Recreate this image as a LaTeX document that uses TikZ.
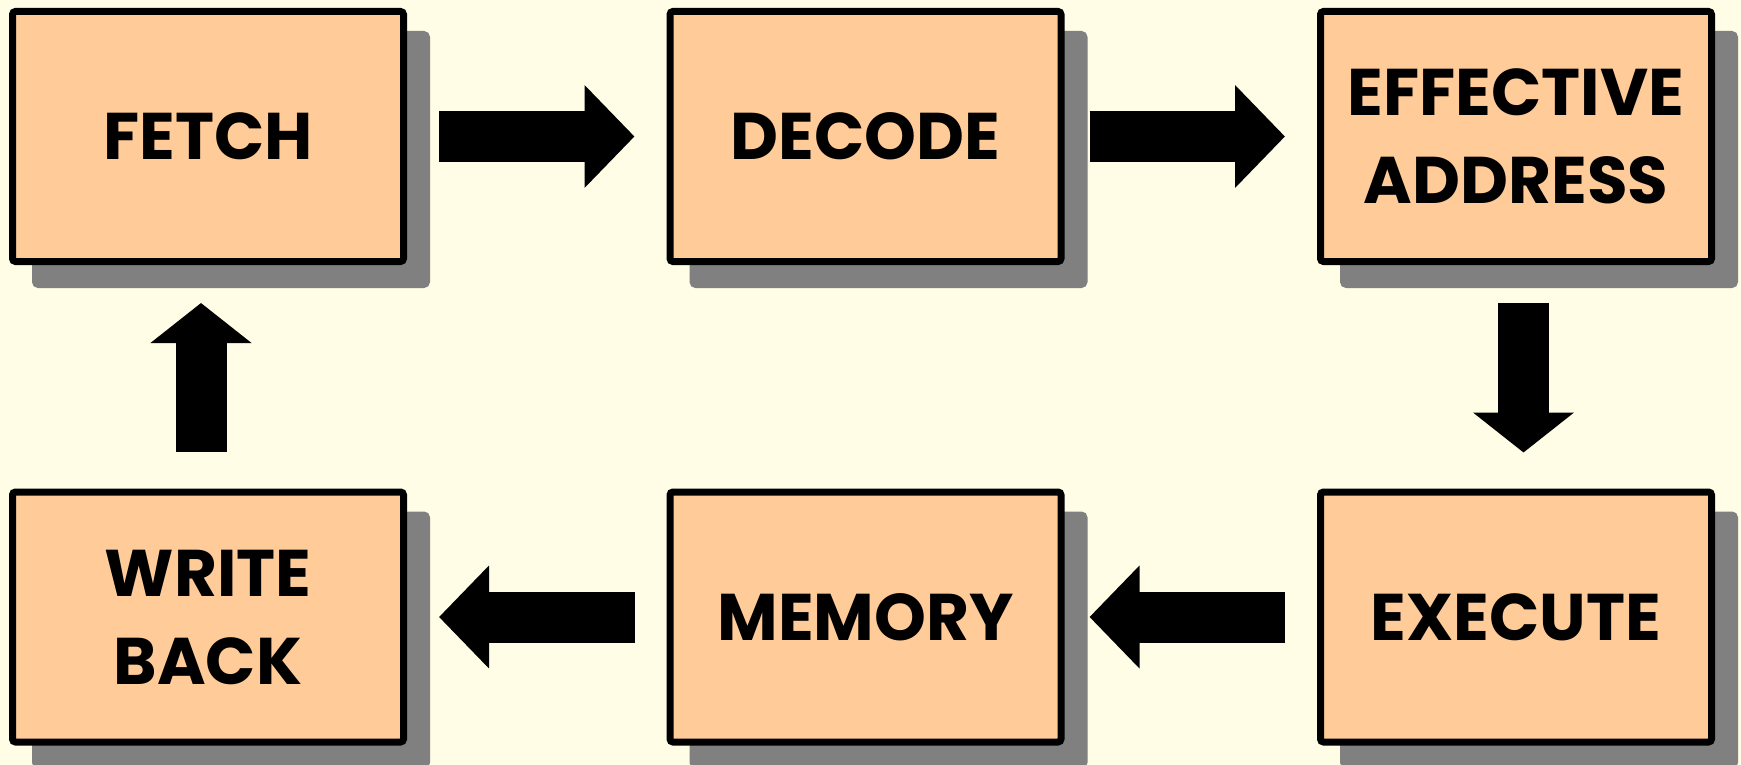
\documentclass[tikz,border=0pt]{standalone}
\usepackage{fontspec}
\setmainfont{Poppins}
\usetikzlibrary{arrows.meta,shadows}

\definecolor{bgyellow}{HTML}{FFFDE6}
\definecolor{stagefill}{HTML}{FFCC99}
\definecolor{shadowgray}{HTML}{808080}

\tikzset{
  stage/.style={draw=black, fill=stagefill, line width=3.5pt, rounded corners=1.5pt,
    minimum width=195.5pt, minimum height=125pt, align=center, inner sep=0pt,
    font=\fontsize{33}{44}\selectfont\bfseries,
    drop shadow={shadow xshift=11.5pt, shadow yshift=-11.5pt, fill=shadowgray,
      draw=shadowgray, opacity=1}},
  flowarrow/.style={line width=25.5pt, -{Triangle[width=50pt,length=25pt]}},
  flowarrowv/.style={line width=25.5pt, -{Triangle[width=49.5pt,length=20pt]}}
}

\begin{document}
\begin{tikzpicture}[x=0.5pt,y=-0.5pt]
  \fill[bgyellow] (0,0) rectangle (1741,765);
  \useasboundingbox (0,0) rectangle (1741,765);

  \node[stage] (fetch) at (208,136.5) {FETCH};
  \node[stage] (decode) at (865.5,136.5) {DECODE};
  \node[stage] (effaddr) at (1516,136.5) {EFFECTIVE\\ADDRESS};
  \node[stage] (writeback) at (208,617) {WRITE\\BACK};
  \node[stage] (memory) at (865.5,617) {MEMORY};
  \node[stage] (execute) at (1516,617) {EXECUTE};

  \draw[flowarrow, shorten <=16pt, shorten >=16pt] (fetch) -- (decode);
  \draw[flowarrow, shorten <=12.5pt, shorten >=16pt] (decode) -- (effaddr);
  \draw[flowarrowv, shorten <=19pt, shorten >=18pt]
    ([xshift=3.75pt]effaddr.south) -- ([xshift=3.75pt]execute.north);
  \draw[flowarrow, shorten <=16pt, shorten >=12.5pt] (execute) -- (memory);
  \draw[flowarrow, shorten <=16pt, shorten >=16pt] (memory) -- (writeback);
  \draw[flowarrowv, shorten <=18.5pt, shorten >=19pt]
    ([xshift=-3.5pt]writeback.north) -- ([xshift=-3.5pt]fetch.south);

\end{tikzpicture}
\end{document}
